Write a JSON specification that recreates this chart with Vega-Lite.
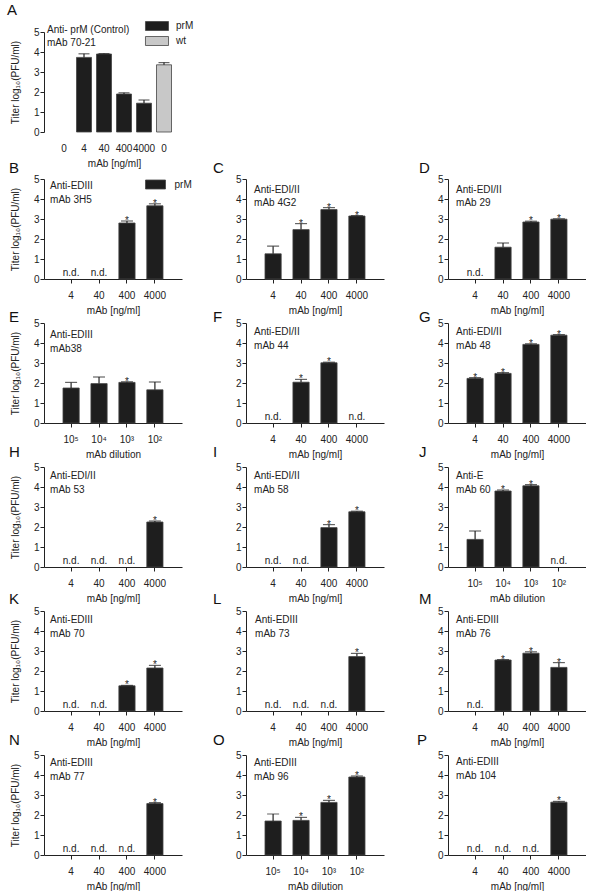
{
"$schema": "https://vega.github.io/schema/vega-lite/v6.json",
"padding": {"left": 7, "top": 3, "right": 0, "bottom": 0},
"config": {
 "font": "Liberation Sans",
 "view": {"stroke": null},
 "axis": {"domainColor": "#222", "tickColor": "#222", "labelColor": "#222", "titleColor": "#222", "labelFontSize": 10, "titleFontSize": 10, "titleFontWeight": "normal", "tickSize": 4, "grid": false, "labelFont": "Liberation Sans", "titleFont": "Liberation Sans"},
 "axisX": {"labelAngle": 0, "labelPadding": 7, "titlePadding": 5},
 "axisY": {"labelPadding": 1, "titlePadding": 13, "tickCount": 5},
 "title": {"fontSize": 15, "fontWeight": "normal", "anchor": "start", "frame": "group", "color": "#111", "baseline": "alphabetic"},
 "text": {"fontSize": 10, "color": "#222"},
 "bar": {"stroke": "#444", "strokeWidth": 0.8},
 "tick": {"color": "#222", "thickness": 1.2},
 "rule": {"color": "#222", "strokeWidth": 1.2},
 "legend": {"labelFontSize": 10, "labelColor": "#222", "labelFont": "Liberation Sans", "symbolStrokeColor": "#444", "symbolStrokeWidth": 0.8, "labelOffset": 14, "rowPadding": 1, "padding": 0}
},
"bounds": "flush",
"spacing": 47,
"resolve": {"scale": {"color": "independent"}, "legend": {"color": "independent"}},
"vconcat": [
 {
  "width": 140, "height": 100,
  "title": {"text": "A", "dx": -37, "offset": 3},
  "data": {"values": [
   {"c": "0a", "v": null, "h": null, "s": "", "n": "", "t": "prM"},
   {"c": "4", "v": 3.73, "h": 3.91, "s": "", "n": "", "t": "prM"},
   {"c": "40", "v": 3.9, "h": 3.92, "s": "", "n": "", "t": "prM"},
   {"c": "400", "v": 1.9, "h": 1.96, "s": "", "n": "", "t": "prM"},
   {"c": "4000", "v": 1.44, "h": 1.6, "s": "", "n": "", "t": "prM"},
   {"c": "0b", "v": 3.36, "h": 3.47, "s": "", "n": "", "t": "wt"}
  ]},
  "encoding": {"x": {"field": "c", "type": "nominal", "scale": {"domain": ["0a", "4", "40", "400", "4000", "0b"], "paddingInner": 0.25, "paddingOuter": 0.625}, "axis": {"title": "mAb [ng/ml]", "domain": false, "tickOpacity": 0, "labelExpr": "datum.value == '0a' || datum.value == '0b' ? '0' : datum.label"}}},
  "layer": [
   {"mark": "bar", "encoding": {"y": {"field": "v", "type": "quantitative", "scale": {"domain": [0, 5]}, "axis": {"title": "Titer log₁₀(PFU/ml)"}}, "color": {"field": "t", "type": "nominal", "scale": {"domain": ["prM", "wt"], "range": ["#1e1e1e", "#c8c8c8"]}, "legend": {"orient": "none", "legendX": 108, "legendY": -11, "title": null, "symbolType": "M-2.56,-1H2.56V1H-2.56Z", "symbolSize": 81}}}},
   {"mark": "rule", "encoding": {"y": {"field": "v", "type": "quantitative"}, "y2": {"field": "h"}}},
   {"mark": {"type": "tick", "size": 11}, "encoding": {"y": {"field": "h", "type": "quantitative"}}},
   {"data": {"values": [{}]}, "mark": {"type": "text", "align": "left", "baseline": "middle", "dx": -17, "text": "Anti- prM (Control)"}, "encoding": {"x": {"datum": "0a", "type": "nominal"}, "y": {"datum": 5.1, "type": "quantitative"}}},
   {"data": {"values": [{}]}, "mark": {"type": "text", "align": "left", "baseline": "middle", "dx": -17, "dy": 13, "text": "mAb 70-21"}, "encoding": {"x": {"datum": "0a", "type": "nominal"}, "y": {"datum": 5.1, "type": "quantitative"}}}
  ]
 },
 {
  "bounds": "flush",
  "columns": 3,
  "spacing": {"row": 44, "column": 64},
  "resolve": {"scale": {"color": "independent"}, "legend": {"color": "independent"}},
  "concat": [
   {
    "width": 138, "height": 100,
    "title": {"text": "B", "dx": -35, "offset": -2},
    "data": {"values": [
     {"c": "4", "v": null, "h": null, "s": "", "n": "n.d.", "t": "prM"},
     {"c": "40", "v": null, "h": null, "s": "", "n": "n.d.", "t": "prM"},
     {"c": "400", "v": 2.8, "h": 2.9, "s": "*", "n": "", "t": "prM"},
     {"c": "4000", "v": 3.66, "h": 3.76, "s": "*", "n": "", "t": "prM"}
    ]},
    "encoding": {"x": {"field": "c", "type": "nominal", "scale": {"domain": ["4", "40", "400", "4000"], "paddingInner": 0.42, "paddingOuter": 0.68}, "axis": {"title": "mAb [ng/ml]"}}},
    "layer": [
     {"mark": "bar", "encoding": {"y": {"field": "v", "type": "quantitative", "scale": {"domain": [0, 5]}, "axis": {"title": "Titer log₁₀(PFU/ml)"}}, "color": {"field": "t", "type": "nominal", "scale": {"domain": ["prM"], "range": ["#1e1e1e"]}, "legend": {"orient": "none", "legendX": 106.5, "legendY": 0.5, "title": null, "symbolType": "M-2.22,-1H2.22V1H-2.22Z", "symbolSize": 81}}}},
     {"mark": "rule", "encoding": {"y": {"field": "v", "type": "quantitative"}, "y2": {"field": "h"}}},
     {"mark": {"type": "tick", "size": 12}, "encoding": {"y": {"field": "h", "type": "quantitative"}}},
     {"mark": {"type": "text", "baseline": "alphabetic", "dy": 3}, "encoding": {"y": {"field": "h", "type": "quantitative"}, "text": {"field": "s"}}},
     {"mark": {"type": "text", "baseline": "bottom", "dy": -1}, "encoding": {"y": {"datum": 0, "type": "quantitative"}, "text": {"field": "n"}}},
     {"data": {"values": [{}]}, "mark": {"type": "text", "align": "left", "baseline": "middle", "dx": -21, "text": "Anti-EDIII"}, "encoding": {"x": {"datum": "4", "type": "nominal"}, "y": {"datum": 4.63, "type": "quantitative"}}},
     {"data": {"values": [{}]}, "mark": {"type": "text", "align": "left", "baseline": "middle", "dx": -21, "dy": 13.5, "text": "mAb 3H5"}, "encoding": {"x": {"datum": "4", "type": "nominal"}, "y": {"datum": 4.63, "type": "quantitative"}}}
    ]
   },
   {
    "width": 138, "height": 100,
    "title": {"text": "C", "dx": -33, "offset": -2},
    "data": {"values": [
     {"c": "4", "v": 1.26, "h": 1.64, "s": "", "n": "", "t": "prM"},
     {"c": "40", "v": 2.47, "h": 2.77, "s": "*", "n": "", "t": "prM"},
     {"c": "400", "v": 3.47, "h": 3.57, "s": "*", "n": "", "t": "prM"},
     {"c": "4000", "v": 3.15, "h": 3.17, "s": "*", "n": "", "t": "prM"}
    ]},
    "encoding": {"x": {"field": "c", "type": "nominal", "scale": {"domain": ["4", "40", "400", "4000"], "paddingInner": 0.42, "paddingOuter": 0.68}, "axis": {"title": "mAb [ng/ml]"}}},
    "layer": [
     {"mark": "bar", "encoding": {"y": {"field": "v", "type": "quantitative", "scale": {"domain": [0, 5]}, "axis": {"title": null}}, "color": {"field": "t", "type": "nominal", "scale": {"domain": ["prM", "wt"], "range": ["#1e1e1e", "#c8c8c8"]}, "legend": null}}},
     {"mark": "rule", "encoding": {"y": {"field": "v", "type": "quantitative"}, "y2": {"field": "h"}}},
     {"mark": {"type": "tick", "size": 12}, "encoding": {"y": {"field": "h", "type": "quantitative"}}},
     {"mark": {"type": "text", "baseline": "alphabetic", "dy": 3}, "encoding": {"y": {"field": "h", "type": "quantitative"}, "text": {"field": "s"}}},
     {"mark": {"type": "text", "baseline": "bottom", "dy": -1}, "encoding": {"y": {"datum": 0, "type": "quantitative"}, "text": {"field": "n"}}},
     {"data": {"values": [{}]}, "mark": {"type": "text", "align": "left", "baseline": "middle", "dx": -19, "text": "Anti-EDI/II"}, "encoding": {"x": {"datum": "4", "type": "nominal"}, "y": {"datum": 4.47, "type": "quantitative"}}},
     {"data": {"values": [{}]}, "mark": {"type": "text", "align": "left", "baseline": "middle", "dx": -19, "dy": 13.5, "text": "mAb 4G2"}, "encoding": {"x": {"datum": "4", "type": "nominal"}, "y": {"datum": 4.47, "type": "quantitative"}}}
    ]
   },
   {
    "width": 138, "height": 100,
    "title": {"text": "D", "dx": -29, "offset": -2},
    "data": {"values": [
     {"c": "4", "v": null, "h": null, "s": "", "n": "n.d.", "t": "prM"},
     {"c": "40", "v": 1.59, "h": 1.8, "s": "", "n": "", "t": "prM"},
     {"c": "400", "v": 2.85, "h": 2.89, "s": "*", "n": "", "t": "prM"},
     {"c": "4000", "v": 2.99, "h": 3.01, "s": "*", "n": "", "t": "prM"}
    ]},
    "encoding": {"x": {"field": "c", "type": "nominal", "scale": {"domain": ["4", "40", "400", "4000"], "paddingInner": 0.42, "paddingOuter": 0.68}, "axis": {"title": "mAb [ng/ml]"}}},
    "layer": [
     {"mark": "bar", "encoding": {"y": {"field": "v", "type": "quantitative", "scale": {"domain": [0, 5]}, "axis": {"title": null}}, "color": {"field": "t", "type": "nominal", "scale": {"domain": ["prM", "wt"], "range": ["#1e1e1e", "#c8c8c8"]}, "legend": null}}},
     {"mark": "rule", "encoding": {"y": {"field": "v", "type": "quantitative"}, "y2": {"field": "h"}}},
     {"mark": {"type": "tick", "size": 12}, "encoding": {"y": {"field": "h", "type": "quantitative"}}},
     {"mark": {"type": "text", "baseline": "alphabetic", "dy": 3}, "encoding": {"y": {"field": "h", "type": "quantitative"}, "text": {"field": "s"}}},
     {"mark": {"type": "text", "baseline": "bottom", "dy": -1}, "encoding": {"y": {"datum": 0, "type": "quantitative"}, "text": {"field": "n"}}},
     {"data": {"values": [{}]}, "mark": {"type": "text", "align": "left", "baseline": "middle", "dx": -19, "text": "Anti-EDI/II"}, "encoding": {"x": {"datum": "4", "type": "nominal"}, "y": {"datum": 4.47, "type": "quantitative"}}},
     {"data": {"values": [{}]}, "mark": {"type": "text", "align": "left", "baseline": "middle", "dx": -19, "dy": 13.5, "text": "mAb 29"}, "encoding": {"x": {"datum": "4", "type": "nominal"}, "y": {"datum": 4.47, "type": "quantitative"}}}
    ]
   },
   {
    "width": 138, "height": 100,
    "title": {"text": "E", "dx": -35, "offset": -7},
    "data": {"values": [
     {"c": "10⁵", "v": 1.75, "h": 2.03, "s": "", "n": "", "t": "prM"},
     {"c": "10⁴", "v": 1.97, "h": 2.3, "s": "", "n": "", "t": "prM"},
     {"c": "10³", "v": 2.03, "h": 2.06, "s": "*", "n": "", "t": "prM"},
     {"c": "10²", "v": 1.66, "h": 2.05, "s": "", "n": "", "t": "prM"}
    ]},
    "encoding": {"x": {"field": "c", "type": "nominal", "scale": {"domain": ["10⁵", "10⁴", "10³", "10²"], "paddingInner": 0.42, "paddingOuter": 0.68}, "axis": {"title": "mAb dilution"}}},
    "layer": [
     {"mark": "bar", "encoding": {"y": {"field": "v", "type": "quantitative", "scale": {"domain": [0, 5]}, "axis": {"title": "Titer log₁₀(PFU/ml)"}}, "color": {"field": "t", "type": "nominal", "scale": {"domain": ["prM", "wt"], "range": ["#1e1e1e", "#c8c8c8"]}, "legend": null}}},
     {"mark": "rule", "encoding": {"y": {"field": "v", "type": "quantitative"}, "y2": {"field": "h"}}},
     {"mark": {"type": "tick", "size": 12}, "encoding": {"y": {"field": "h", "type": "quantitative"}}},
     {"mark": {"type": "text", "baseline": "alphabetic", "dy": 3}, "encoding": {"y": {"field": "h", "type": "quantitative"}, "text": {"field": "s"}}},
     {"mark": {"type": "text", "baseline": "bottom", "dy": -1}, "encoding": {"y": {"datum": 0, "type": "quantitative"}, "text": {"field": "n"}}},
     {"data": {"values": [{}]}, "mark": {"type": "text", "align": "left", "baseline": "middle", "dx": -21, "text": "Anti-EDIII"}, "encoding": {"x": {"datum": "10⁵", "type": "nominal"}, "y": {"datum": 4.4, "type": "quantitative"}}},
     {"data": {"values": [{}]}, "mark": {"type": "text", "align": "left", "baseline": "middle", "dx": -21, "dy": 13.5, "text": "mAb38"}, "encoding": {"x": {"datum": "10⁵", "type": "nominal"}, "y": {"datum": 4.4, "type": "quantitative"}}}
    ]
   },
   {
    "width": 138, "height": 100,
    "title": {"text": "F", "dx": -33, "offset": -7},
    "data": {"values": [
     {"c": "4", "v": null, "h": null, "s": "", "n": "n.d.", "t": "prM"},
     {"c": "40", "v": 2.04, "h": 2.18, "s": "*", "n": "", "t": "prM"},
     {"c": "400", "v": 3.01, "h": 3.04, "s": "*", "n": "", "t": "prM"},
     {"c": "4000", "v": null, "h": null, "s": "", "n": "n.d.", "t": "prM"}
    ]},
    "encoding": {"x": {"field": "c", "type": "nominal", "scale": {"domain": ["4", "40", "400", "4000"], "paddingInner": 0.42, "paddingOuter": 0.68}, "axis": {"title": "mAb [ng/ml]"}}},
    "layer": [
     {"mark": "bar", "encoding": {"y": {"field": "v", "type": "quantitative", "scale": {"domain": [0, 5]}, "axis": {"title": null}}, "color": {"field": "t", "type": "nominal", "scale": {"domain": ["prM", "wt"], "range": ["#1e1e1e", "#c8c8c8"]}, "legend": null}}},
     {"mark": "rule", "encoding": {"y": {"field": "v", "type": "quantitative"}, "y2": {"field": "h"}}},
     {"mark": {"type": "tick", "size": 12}, "encoding": {"y": {"field": "h", "type": "quantitative"}}},
     {"mark": {"type": "text", "baseline": "alphabetic", "dy": 3}, "encoding": {"y": {"field": "h", "type": "quantitative"}, "text": {"field": "s"}}},
     {"mark": {"type": "text", "baseline": "bottom", "dy": -1}, "encoding": {"y": {"datum": 0, "type": "quantitative"}, "text": {"field": "n"}}},
     {"data": {"values": [{}]}, "mark": {"type": "text", "align": "left", "baseline": "middle", "dx": -19, "text": "Anti-EDI/II"}, "encoding": {"x": {"datum": "4", "type": "nominal"}, "y": {"datum": 4.55, "type": "quantitative"}}},
     {"data": {"values": [{}]}, "mark": {"type": "text", "align": "left", "baseline": "middle", "dx": -19, "dy": 13.5, "text": "mAb 44"}, "encoding": {"x": {"datum": "4", "type": "nominal"}, "y": {"datum": 4.55, "type": "quantitative"}}}
    ]
   },
   {
    "width": 138, "height": 100,
    "title": {"text": "G", "dx": -29, "offset": -7},
    "data": {"values": [
     {"c": "4", "v": 2.23, "h": 2.27, "s": "*", "n": "", "t": "prM"},
     {"c": "40", "v": 2.48, "h": 2.52, "s": "*", "n": "", "t": "prM"},
     {"c": "400", "v": 3.93, "h": 3.96, "s": "*", "n": "", "t": "prM"},
     {"c": "4000", "v": 4.39, "h": 4.42, "s": "*", "n": "", "t": "prM"}
    ]},
    "encoding": {"x": {"field": "c", "type": "nominal", "scale": {"domain": ["4", "40", "400", "4000"], "paddingInner": 0.42, "paddingOuter": 0.68}, "axis": {"title": "mAb [ng/ml]"}}},
    "layer": [
     {"mark": "bar", "encoding": {"y": {"field": "v", "type": "quantitative", "scale": {"domain": [0, 5]}, "axis": {"title": null}}, "color": {"field": "t", "type": "nominal", "scale": {"domain": ["prM", "wt"], "range": ["#1e1e1e", "#c8c8c8"]}, "legend": null}}},
     {"mark": "rule", "encoding": {"y": {"field": "v", "type": "quantitative"}, "y2": {"field": "h"}}},
     {"mark": {"type": "tick", "size": 12}, "encoding": {"y": {"field": "h", "type": "quantitative"}}},
     {"mark": {"type": "text", "baseline": "alphabetic", "dy": 3}, "encoding": {"y": {"field": "h", "type": "quantitative"}, "text": {"field": "s"}}},
     {"mark": {"type": "text", "baseline": "bottom", "dy": -1}, "encoding": {"y": {"datum": 0, "type": "quantitative"}, "text": {"field": "n"}}},
     {"data": {"values": [{}]}, "mark": {"type": "text", "align": "left", "baseline": "middle", "dx": -19, "text": "Anti-EDI/II"}, "encoding": {"x": {"datum": "4", "type": "nominal"}, "y": {"datum": 4.55, "type": "quantitative"}}},
     {"data": {"values": [{}]}, "mark": {"type": "text", "align": "left", "baseline": "middle", "dx": -19, "dy": 13.5, "text": "mAb 48"}, "encoding": {"x": {"datum": "4", "type": "nominal"}, "y": {"datum": 4.55, "type": "quantitative"}}}
    ]
   },
   {
    "width": 138, "height": 100,
    "title": {"text": "H", "dx": -35, "offset": 2},
    "data": {"values": [
     {"c": "4", "v": null, "h": null, "s": "", "n": "n.d.", "t": "prM"},
     {"c": "40", "v": null, "h": null, "s": "", "n": "n.d.", "t": "prM"},
     {"c": "400", "v": null, "h": null, "s": "", "n": "n.d.", "t": "prM"},
     {"c": "4000", "v": 2.25, "h": 2.3, "s": "*", "n": "", "t": "prM"}
    ]},
    "encoding": {"x": {"field": "c", "type": "nominal", "scale": {"domain": ["4", "40", "400", "4000"], "paddingInner": 0.42, "paddingOuter": 0.68}, "axis": {"title": "mAb [ng/ml]"}}},
    "layer": [
     {"mark": "bar", "encoding": {"y": {"field": "v", "type": "quantitative", "scale": {"domain": [0, 5]}, "axis": {"title": "Titer log₁₀(PFU/ml)"}}, "color": {"field": "t", "type": "nominal", "scale": {"domain": ["prM", "wt"], "range": ["#1e1e1e", "#c8c8c8"]}, "legend": null}}},
     {"mark": "rule", "encoding": {"y": {"field": "v", "type": "quantitative"}, "y2": {"field": "h"}}},
     {"mark": {"type": "tick", "size": 12}, "encoding": {"y": {"field": "h", "type": "quantitative"}}},
     {"mark": {"type": "text", "baseline": "alphabetic", "dy": 3}, "encoding": {"y": {"field": "h", "type": "quantitative"}, "text": {"field": "s"}}},
     {"mark": {"type": "text", "baseline": "bottom", "dy": -1}, "encoding": {"y": {"datum": 0, "type": "quantitative"}, "text": {"field": "n"}}},
     {"data": {"values": [{}]}, "mark": {"type": "text", "align": "left", "baseline": "middle", "dx": -21, "text": "Anti-EDI/II"}, "encoding": {"x": {"datum": "4", "type": "nominal"}, "y": {"datum": 4.55, "type": "quantitative"}}},
     {"data": {"values": [{}]}, "mark": {"type": "text", "align": "left", "baseline": "middle", "dx": -21, "dy": 13.5, "text": "mAb 53"}, "encoding": {"x": {"datum": "4", "type": "nominal"}, "y": {"datum": 4.55, "type": "quantitative"}}}
    ]
   },
   {
    "width": 138, "height": 100,
    "title": {"text": "I", "dx": -33, "offset": 2},
    "data": {"values": [
     {"c": "4", "v": null, "h": null, "s": "", "n": "n.d.", "t": "prM"},
     {"c": "40", "v": null, "h": null, "s": "", "n": "n.d.", "t": "prM"},
     {"c": "400", "v": 1.97, "h": 2.12, "s": "*", "n": "", "t": "prM"},
     {"c": "4000", "v": 2.76, "h": 2.79, "s": "*", "n": "", "t": "prM"}
    ]},
    "encoding": {"x": {"field": "c", "type": "nominal", "scale": {"domain": ["4", "40", "400", "4000"], "paddingInner": 0.42, "paddingOuter": 0.68}, "axis": {"title": "mAb [ng/ml]"}}},
    "layer": [
     {"mark": "bar", "encoding": {"y": {"field": "v", "type": "quantitative", "scale": {"domain": [0, 5]}, "axis": {"title": null}}, "color": {"field": "t", "type": "nominal", "scale": {"domain": ["prM", "wt"], "range": ["#1e1e1e", "#c8c8c8"]}, "legend": null}}},
     {"mark": "rule", "encoding": {"y": {"field": "v", "type": "quantitative"}, "y2": {"field": "h"}}},
     {"mark": {"type": "tick", "size": 12}, "encoding": {"y": {"field": "h", "type": "quantitative"}}},
     {"mark": {"type": "text", "baseline": "alphabetic", "dy": 3}, "encoding": {"y": {"field": "h", "type": "quantitative"}, "text": {"field": "s"}}},
     {"mark": {"type": "text", "baseline": "bottom", "dy": -1}, "encoding": {"y": {"datum": 0, "type": "quantitative"}, "text": {"field": "n"}}},
     {"data": {"values": [{}]}, "mark": {"type": "text", "align": "left", "baseline": "middle", "dx": -19, "text": "Anti-EDI/II"}, "encoding": {"x": {"datum": "4", "type": "nominal"}, "y": {"datum": 4.55, "type": "quantitative"}}},
     {"data": {"values": [{}]}, "mark": {"type": "text", "align": "left", "baseline": "middle", "dx": -19, "dy": 13.5, "text": "mAb 58"}, "encoding": {"x": {"datum": "4", "type": "nominal"}, "y": {"datum": 4.55, "type": "quantitative"}}}
    ]
   },
   {
    "width": 138, "height": 100,
    "title": {"text": "J", "dx": -29, "offset": 2},
    "data": {"values": [
     {"c": "10⁵", "v": 1.38, "h": 1.8, "s": "", "n": "", "t": "prM"},
     {"c": "10⁴", "v": 3.8, "h": 3.85, "s": "*", "n": "", "t": "prM"},
     {"c": "10³", "v": 4.06, "h": 4.12, "s": "*", "n": "", "t": "prM"},
     {"c": "10²", "v": null, "h": null, "s": "", "n": "n.d.", "t": "prM"}
    ]},
    "encoding": {"x": {"field": "c", "type": "nominal", "scale": {"domain": ["10⁵", "10⁴", "10³", "10²"], "paddingInner": 0.42, "paddingOuter": 0.68}, "axis": {"title": "mAb dilution"}}},
    "layer": [
     {"mark": "bar", "encoding": {"y": {"field": "v", "type": "quantitative", "scale": {"domain": [0, 5]}, "axis": {"title": null}}, "color": {"field": "t", "type": "nominal", "scale": {"domain": ["prM", "wt"], "range": ["#1e1e1e", "#c8c8c8"]}, "legend": null}}},
     {"mark": "rule", "encoding": {"y": {"field": "v", "type": "quantitative"}, "y2": {"field": "h"}}},
     {"mark": {"type": "tick", "size": 12}, "encoding": {"y": {"field": "h", "type": "quantitative"}}},
     {"mark": {"type": "text", "baseline": "alphabetic", "dy": 3}, "encoding": {"y": {"field": "h", "type": "quantitative"}, "text": {"field": "s"}}},
     {"mark": {"type": "text", "baseline": "bottom", "dy": -1}, "encoding": {"y": {"datum": 0, "type": "quantitative"}, "text": {"field": "n"}}},
     {"data": {"values": [{}]}, "mark": {"type": "text", "align": "left", "baseline": "middle", "dx": -19, "text": "Anti-E"}, "encoding": {"x": {"datum": "10⁵", "type": "nominal"}, "y": {"datum": 4.55, "type": "quantitative"}}},
     {"data": {"values": [{}]}, "mark": {"type": "text", "align": "left", "baseline": "middle", "dx": -19, "dy": 13.5, "text": "mAb 60"}, "encoding": {"x": {"datum": "10⁵", "type": "nominal"}, "y": {"datum": 4.55, "type": "quantitative"}}}
    ]
   },
   {
    "width": 138, "height": 100,
    "title": {"text": "K", "dx": -35, "offset": -1},
    "data": {"values": [
     {"c": "4", "v": null, "h": null, "s": "", "n": "n.d.", "t": "prM"},
     {"c": "40", "v": null, "h": null, "s": "", "n": "n.d.", "t": "prM"},
     {"c": "400", "v": 1.26, "h": 1.28, "s": "*", "n": "", "t": "prM"},
     {"c": "4000", "v": 2.15, "h": 2.28, "s": "*", "n": "", "t": "prM"}
    ]},
    "encoding": {"x": {"field": "c", "type": "nominal", "scale": {"domain": ["4", "40", "400", "4000"], "paddingInner": 0.42, "paddingOuter": 0.68}, "axis": {"title": "mAb [ng/ml]"}}},
    "layer": [
     {"mark": "bar", "encoding": {"y": {"field": "v", "type": "quantitative", "scale": {"domain": [0, 5]}, "axis": {"title": "Titer log₁₀(PFU/ml)"}}, "color": {"field": "t", "type": "nominal", "scale": {"domain": ["prM", "wt"], "range": ["#1e1e1e", "#c8c8c8"]}, "legend": null}}},
     {"mark": "rule", "encoding": {"y": {"field": "v", "type": "quantitative"}, "y2": {"field": "h"}}},
     {"mark": {"type": "tick", "size": 12}, "encoding": {"y": {"field": "h", "type": "quantitative"}}},
     {"mark": {"type": "text", "baseline": "alphabetic", "dy": 3}, "encoding": {"y": {"field": "h", "type": "quantitative"}, "text": {"field": "s"}}},
     {"mark": {"type": "text", "baseline": "bottom", "dy": -1}, "encoding": {"y": {"datum": 0, "type": "quantitative"}, "text": {"field": "n"}}},
     {"data": {"values": [{}]}, "mark": {"type": "text", "align": "left", "baseline": "middle", "dx": -21, "text": "Anti-EDIII"}, "encoding": {"x": {"datum": "4", "type": "nominal"}, "y": {"datum": 4.55, "type": "quantitative"}}},
     {"data": {"values": [{}]}, "mark": {"type": "text", "align": "left", "baseline": "middle", "dx": -21, "dy": 13.5, "text": "mAb 70"}, "encoding": {"x": {"datum": "4", "type": "nominal"}, "y": {"datum": 4.55, "type": "quantitative"}}}
    ]
   },
   {
    "width": 138, "height": 100,
    "title": {"text": "L", "dx": -33, "offset": -1},
    "data": {"values": [
     {"c": "4", "v": null, "h": null, "s": "", "n": "n.d.", "t": "prM"},
     {"c": "40", "v": null, "h": null, "s": "", "n": "n.d.", "t": "prM"},
     {"c": "400", "v": null, "h": null, "s": "", "n": "n.d.", "t": "prM"},
     {"c": "4000", "v": 2.72, "h": 2.88, "s": "*", "n": "", "t": "prM"}
    ]},
    "encoding": {"x": {"field": "c", "type": "nominal", "scale": {"domain": ["4", "40", "400", "4000"], "paddingInner": 0.42, "paddingOuter": 0.68}, "axis": {"title": "mAb [ng/ml]"}}},
    "layer": [
     {"mark": "bar", "encoding": {"y": {"field": "v", "type": "quantitative", "scale": {"domain": [0, 5]}, "axis": {"title": null}}, "color": {"field": "t", "type": "nominal", "scale": {"domain": ["prM", "wt"], "range": ["#1e1e1e", "#c8c8c8"]}, "legend": null}}},
     {"mark": "rule", "encoding": {"y": {"field": "v", "type": "quantitative"}, "y2": {"field": "h"}}},
     {"mark": {"type": "tick", "size": 12}, "encoding": {"y": {"field": "h", "type": "quantitative"}}},
     {"mark": {"type": "text", "baseline": "alphabetic", "dy": 3}, "encoding": {"y": {"field": "h", "type": "quantitative"}, "text": {"field": "s"}}},
     {"mark": {"type": "text", "baseline": "bottom", "dy": -1}, "encoding": {"y": {"datum": 0, "type": "quantitative"}, "text": {"field": "n"}}},
     {"data": {"values": [{}]}, "mark": {"type": "text", "align": "left", "baseline": "middle", "dx": -18, "text": "Anti-EDIII"}, "encoding": {"x": {"datum": "4", "type": "nominal"}, "y": {"datum": 4.55, "type": "quantitative"}}},
     {"data": {"values": [{}]}, "mark": {"type": "text", "align": "left", "baseline": "middle", "dx": -18, "dy": 13.5, "text": "mAb 73"}, "encoding": {"x": {"datum": "4", "type": "nominal"}, "y": {"datum": 4.55, "type": "quantitative"}}}
    ]
   },
   {
    "width": 138, "height": 100,
    "title": {"text": "M", "dx": -29, "offset": -1},
    "data": {"values": [
     {"c": "4", "v": null, "h": null, "s": "", "n": "n.d.", "t": "prM"},
     {"c": "40", "v": 2.55, "h": 2.57, "s": "*", "n": "", "t": "prM"},
     {"c": "400", "v": 2.89, "h": 2.96, "s": "*", "n": "", "t": "prM"},
     {"c": "4000", "v": 2.18, "h": 2.42, "s": "*", "n": "", "t": "prM"}
    ]},
    "encoding": {"x": {"field": "c", "type": "nominal", "scale": {"domain": ["4", "40", "400", "4000"], "paddingInner": 0.42, "paddingOuter": 0.68}, "axis": {"title": "mAb [ng/ml]"}}},
    "layer": [
     {"mark": "bar", "encoding": {"y": {"field": "v", "type": "quantitative", "scale": {"domain": [0, 5]}, "axis": {"title": null}}, "color": {"field": "t", "type": "nominal", "scale": {"domain": ["prM", "wt"], "range": ["#1e1e1e", "#c8c8c8"]}, "legend": null}}},
     {"mark": "rule", "encoding": {"y": {"field": "v", "type": "quantitative"}, "y2": {"field": "h"}}},
     {"mark": {"type": "tick", "size": 12}, "encoding": {"y": {"field": "h", "type": "quantitative"}}},
     {"mark": {"type": "text", "baseline": "alphabetic", "dy": 3}, "encoding": {"y": {"field": "h", "type": "quantitative"}, "text": {"field": "s"}}},
     {"mark": {"type": "text", "baseline": "bottom", "dy": -1}, "encoding": {"y": {"datum": 0, "type": "quantitative"}, "text": {"field": "n"}}},
     {"data": {"values": [{}]}, "mark": {"type": "text", "align": "left", "baseline": "middle", "dx": -19, "text": "Anti-EDIII"}, "encoding": {"x": {"datum": "4", "type": "nominal"}, "y": {"datum": 4.55, "type": "quantitative"}}},
     {"data": {"values": [{}]}, "mark": {"type": "text", "align": "left", "baseline": "middle", "dx": -19, "dy": 13.5, "text": "mAb 76"}, "encoding": {"x": {"datum": "4", "type": "nominal"}, "y": {"datum": 4.55, "type": "quantitative"}}}
    ]
   },
   {
    "width": 138, "height": 100,
    "title": {"text": "N", "dx": -35, "offset": 2},
    "data": {"values": [
     {"c": "4", "v": null, "h": null, "s": "", "n": "n.d.", "t": "prM"},
     {"c": "40", "v": null, "h": null, "s": "", "n": "n.d.", "t": "prM"},
     {"c": "400", "v": null, "h": null, "s": "", "n": "n.d.", "t": "prM"},
     {"c": "4000", "v": 2.57, "h": 2.62, "s": "*", "n": "", "t": "prM"}
    ]},
    "encoding": {"x": {"field": "c", "type": "nominal", "scale": {"domain": ["4", "40", "400", "4000"], "paddingInner": 0.42, "paddingOuter": 0.68}, "axis": {"title": "mAb [ng/ml]"}}},
    "layer": [
     {"mark": "bar", "encoding": {"y": {"field": "v", "type": "quantitative", "scale": {"domain": [0, 5]}, "axis": {"title": "Titer log₁₀(PFU/ml)"}}, "color": {"field": "t", "type": "nominal", "scale": {"domain": ["prM", "wt"], "range": ["#1e1e1e", "#c8c8c8"]}, "legend": null}}},
     {"mark": "rule", "encoding": {"y": {"field": "v", "type": "quantitative"}, "y2": {"field": "h"}}},
     {"mark": {"type": "tick", "size": 12}, "encoding": {"y": {"field": "h", "type": "quantitative"}}},
     {"mark": {"type": "text", "baseline": "alphabetic", "dy": 3}, "encoding": {"y": {"field": "h", "type": "quantitative"}, "text": {"field": "s"}}},
     {"mark": {"type": "text", "baseline": "bottom", "dy": -1}, "encoding": {"y": {"datum": 0, "type": "quantitative"}, "text": {"field": "n"}}},
     {"data": {"values": [{}]}, "mark": {"type": "text", "align": "left", "baseline": "middle", "dx": -21, "text": "Anti-EDIII"}, "encoding": {"x": {"datum": "4", "type": "nominal"}, "y": {"datum": 4.6, "type": "quantitative"}}},
     {"data": {"values": [{}]}, "mark": {"type": "text", "align": "left", "baseline": "middle", "dx": -21, "dy": 13.5, "text": "mAb 77"}, "encoding": {"x": {"datum": "4", "type": "nominal"}, "y": {"datum": 4.6, "type": "quantitative"}}}
    ]
   },
   {
    "width": 138, "height": 100,
    "title": {"text": "O", "dx": -33, "offset": 2},
    "data": {"values": [
     {"c": "10⁵", "v": 1.7, "h": 2.05, "s": "", "n": "", "t": "prM"},
     {"c": "10⁴", "v": 1.73, "h": 1.88, "s": "*", "n": "", "t": "prM"},
     {"c": "10³", "v": 2.63, "h": 2.73, "s": "*", "n": "", "t": "prM"},
     {"c": "10²", "v": 3.9, "h": 3.95, "s": "*", "n": "", "t": "prM"}
    ]},
    "encoding": {"x": {"field": "c", "type": "nominal", "scale": {"domain": ["10⁵", "10⁴", "10³", "10²"], "paddingInner": 0.42, "paddingOuter": 0.68}, "axis": {"title": "mAb dilution"}}},
    "layer": [
     {"mark": "bar", "encoding": {"y": {"field": "v", "type": "quantitative", "scale": {"domain": [0, 5]}, "axis": {"title": null}}, "color": {"field": "t", "type": "nominal", "scale": {"domain": ["prM", "wt"], "range": ["#1e1e1e", "#c8c8c8"]}, "legend": null}}},
     {"mark": "rule", "encoding": {"y": {"field": "v", "type": "quantitative"}, "y2": {"field": "h"}}},
     {"mark": {"type": "tick", "size": 12}, "encoding": {"y": {"field": "h", "type": "quantitative"}}},
     {"mark": {"type": "text", "baseline": "alphabetic", "dy": 3}, "encoding": {"y": {"field": "h", "type": "quantitative"}, "text": {"field": "s"}}},
     {"mark": {"type": "text", "baseline": "bottom", "dy": -1}, "encoding": {"y": {"datum": 0, "type": "quantitative"}, "text": {"field": "n"}}},
     {"data": {"values": [{}]}, "mark": {"type": "text", "align": "left", "baseline": "middle", "dx": -19, "text": "Anti-EDIII"}, "encoding": {"x": {"datum": "10⁵", "type": "nominal"}, "y": {"datum": 4.6, "type": "quantitative"}}},
     {"data": {"values": [{}]}, "mark": {"type": "text", "align": "left", "baseline": "middle", "dx": -19, "dy": 13.5, "text": "mAb 96"}, "encoding": {"x": {"datum": "10⁵", "type": "nominal"}, "y": {"datum": 4.6, "type": "quantitative"}}}
    ]
   },
   {
    "width": 138, "height": 100,
    "title": {"text": "P", "dx": -31, "offset": 2},
    "data": {"values": [
     {"c": "4", "v": null, "h": null, "s": "", "n": "n.d.", "t": "prM"},
     {"c": "40", "v": null, "h": null, "s": "", "n": "n.d.", "t": "prM"},
     {"c": "400", "v": null, "h": null, "s": "", "n": "n.d.", "t": "prM"},
     {"c": "4000", "v": 2.64, "h": 2.68, "s": "*", "n": "", "t": "prM"}
    ]},
    "encoding": {"x": {"field": "c", "type": "nominal", "scale": {"domain": ["4", "40", "400", "4000"], "paddingInner": 0.42, "paddingOuter": 0.68}, "axis": {"title": "mAb [ng/ml]"}}},
    "layer": [
     {"mark": "bar", "encoding": {"y": {"field": "v", "type": "quantitative", "scale": {"domain": [0, 5]}, "axis": {"title": null}}, "color": {"field": "t", "type": "nominal", "scale": {"domain": ["prM", "wt"], "range": ["#1e1e1e", "#c8c8c8"]}, "legend": null}}},
     {"mark": "rule", "encoding": {"y": {"field": "v", "type": "quantitative"}, "y2": {"field": "h"}}},
     {"mark": {"type": "tick", "size": 12}, "encoding": {"y": {"field": "h", "type": "quantitative"}}},
     {"mark": {"type": "text", "baseline": "alphabetic", "dy": 3}, "encoding": {"y": {"field": "h", "type": "quantitative"}, "text": {"field": "s"}}},
     {"mark": {"type": "text", "baseline": "bottom", "dy": -1}, "encoding": {"y": {"datum": 0, "type": "quantitative"}, "text": {"field": "n"}}},
     {"data": {"values": [{}]}, "mark": {"type": "text", "align": "left", "baseline": "middle", "dx": -19, "text": "Anti-EDIII"}, "encoding": {"x": {"datum": "4", "type": "nominal"}, "y": {"datum": 4.65, "type": "quantitative"}}},
     {"data": {"values": [{}]}, "mark": {"type": "text", "align": "left", "baseline": "middle", "dx": -19, "dy": 13.5, "text": "mAb 104"}, "encoding": {"x": {"datum": "4", "type": "nominal"}, "y": {"datum": 4.65, "type": "quantitative"}}}
    ]
   }
  ]
 }
]
}
